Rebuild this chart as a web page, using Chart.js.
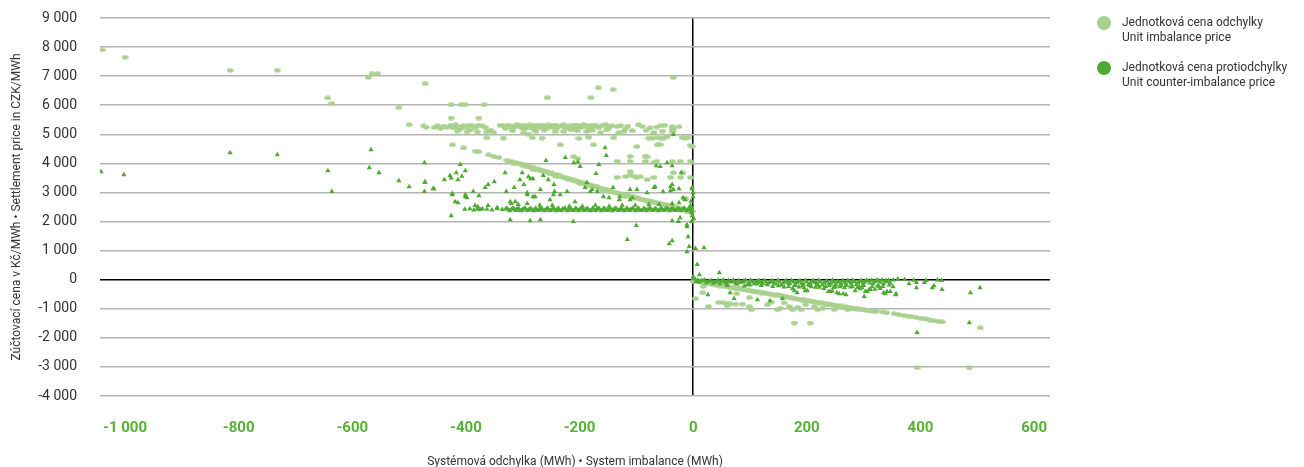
<!DOCTYPE html>
<html>
<head>
<meta charset="utf-8">
<script src="https://cdn.jsdelivr.net/npm/chart.js@4.4.1/dist/chart.umd.min.js"></script>
<style>
html,body{margin:0;padding:0;background:#fff;}
#wrap{position:relative;width:1304px;height:467px;overflow:hidden;}
#c{position:absolute;left:0;top:0;}
#legend{position:absolute;left:1097px;top:15px;font-family:Roboto,sans-serif;font-size:12px;color:#333;line-height:14.5px;}
.item{position:relative;padding-left:25px;height:29px;margin-bottom:16px;white-space:nowrap;}
.dot{position:absolute;left:0;top:1px;width:14px;height:14px;border-radius:50%;}
</style>
</head>
<body>
<div id="wrap">
<canvas id="c" width="1304" height="467"></canvas>
<div id="legend"></div>
</div>
<script>
// ---------- DATA ----------
const seriesNames = [
  ["Jednotková cena odchylky", "Unit imbalance price"],
  ["Jednotková cena protiodchylky", "Unit counter-imbalance price"]
];
const xTickValues = [-1000, -800, -600, -400, -200, 0, 200, 400, 600];
const yTickValues = [-4000, -3000, -2000, -1000, 0, 1000, 2000, 3000, 4000, 5000, 6000, 7000, 8000, 9000];
const xTitle = "Systémová odchylka (MWh) • System imbalance (MWh)";
const yTitle = "Zúčtovací cena v Kč/MWh • Settlement price in CZK/MWh";

// Unit imbalance price [system imbalance MWh, CZK/MWh]
const unitImbalancePrice = [
  [-1040,7900],[-1000,7650],[-815,7200],[-732,7200],[-572,6950],[-565,7080],[-555,7080],[-643,6250],[-636,6060],
  [-518,5920],[-500,5330],[-472,6740],[-35,6950],[-167,6600],[-141,6540],[-257,6260],[-180,6260],
  [-426,6020],[-408,6020],[-401,6020],[-368,6020],[-426,5560],[-377,5560],[-424,4640],
  [-474,5290],[-456,5230],[-439,5280],[-427,5310],[-422,5220],[-418,5330],[-413,5250],[-410,5180],[-405,5300],
  [-389,5290],[-384,5230],[-371,5290],[-333,5290],[-330,5200],[-324,5320],[-320,5230],[-310,5330],[-306,5260],
  [-301,5200],[-298,5310],[-292,5260],[-288,5330],[-283,5200],[-280,5290],[-275,5320],[-272,5240],[-263,5310],
  [-258,5200],[-254,5330],[-250,5260],[-245,5300],[-240,5210],[-228,5330],[-222,5280],[-219,5200],[-215,5310],
  [-210,5300],[-205,5220],[-201,5310],[-195,5260],[-190,5300],[-183,5190],[-172,5320],[-166,5230],[-154,5330],
  [-148,5250],[-134,5260],[-120,5180],[-96,5330],[-76,5220],[-58,5290],[-37,5260],[-35,5180],
  [-470,5240],[-450,5290],[-445,5200],[-433,5240],[-416,5270],[-400,5240],[-395,5310],[-378,5320],[-366,5240],
  [-340,5310],[-327,5260],[-316,5220],[-313,5290],[-304,5320],[-295,5200],[-286,5280],[-278,5210],[-268,5300],
  [-266,5220],[-261,5270],[-247,5220],[-242,5320],[-236,5260],[-231,5300],[-225,5230],[-212,5250],[-207,5320],
  [-198,5230],[-193,5330],[-186,5240],[-180,5320],[-176,5260],[-160,5300],[-150,5210],[-143,5300],[-128,5300],
  [-115,5280],[-90,5270],[-64,5250],[-50,5310],[-25,5260],
  [-398,5080],[-380,5080],[-363,5080],[-351,5070],[-298,5050],[-290,5010],[-228,5100],[-204,5120],[-187,5100],
  [-163,5060],[-131,5060],[-107,5120],[-69,5060],[-37,5150],[-36,5080],
  [-415,5110],[-392,5150],[-356,5140],[-318,5120],[-277,5100],[-262,5140],[-243,5090],[-214,5150],[-178,5130],
  [-152,5150],[-122,5100],[-83,5140],[-54,5110],
  [-363,4880],[-334,4870],[-283,4880],[-266,4870],[-201,4860],[-184,4900],[-140,4880],[-78,4870],[-72,4870],
  [-64,4880],[-57,4870],[-52,4870],[-19,4880],[-14,4870],[-9,4880],
  [-234,4640],[-175,4640],[-99,4580],[-63,4640],[-58,4640],[-5,4620],[-2,4580],[-46,4920],[-18,4880],
  [-404,4530],[-383,4420],[-377,4400],[-360,4290],[-351,4240],[-342,4200],
  [-328,4110],[-320,4070],[-312,4030],[-305,3990],[-297,3950],[-289,3900],[-281,3860],[-273,3810],[-265,3760],
  [-257,3720],[-249,3670],[-241,3620],[-233,3570],[-225,3520],[-217,3480],[-209,3430],[-201,3380],[-193,3330],
  [-185,3290],[-177,3240],[-169,3200],[-161,3150],[-153,3110],[-145,3060],[-137,3010],[-129,2970],[-121,2930],
  [-113,2890],[-105,2850],[-97,2810],[-89,2770],[-81,2740],[-73,2700],[-65,2660],[-57,2620],[-49,2590],
  [-41,2550],[-33,2510],[-25,2470],[-17,2430],[-9,2390],[-2,2350],
  [-325,4060],[-317,4010],[-309,3980],[-301,3930],[-293,3880],[-285,3840],[-277,3790],[-269,3740],[-261,3700],
  [-253,3650],[-245,3600],[-237,3560],[-229,3510],[-221,3460],[-213,3420],[-205,3370],[-197,3320],[-189,3280],
  [-181,3230],[-173,3190],[-165,3140],[-157,3100],[-149,3050],[-141,3000],[-133,2960],[-125,2920],[-117,2880],
  [-109,2840],[-101,2800],[-93,2760],[-85,2720],[-77,2690],[-69,2650],[-61,2610],[-53,2570],[-45,2540],
  [-37,2500],[-29,2460],[-21,2420],[-13,2380],[-6,2340],
  [-280,3780],[-240,3550],[-200,3320],[-160,3080],[-120,2870],[-80,2680],[-40,2490],[-10,2330],
  [-210,4230],[-203,4170],[-111,4240],[-84,4240],[-81,4230],[-134,4070],[-111,4070],[-84,4070],[-70,4020],
  [-64,4070],[-37,4070],[-23,4070],[-5,4060],[-134,3520],[-119,3550],[-111,3720],[-110,3600],[-102,3540],
  [-99,3520],[-93,3540],[-81,3440],[-69,3520],[-40,3520],[-35,3680],[-22,3520],[-18,3680],[-5,3510],
  [-16,2790],[-13,2790],
  [3,-40],[12,-70],[20,-100],[28,-120],[36,-150],[44,-180],[52,-200],[60,-230],[68,-260],[76,-280],[84,-310],
  [92,-340],[100,-360],[108,-390],[116,-420],[124,-440],[132,-470],[140,-500],[148,-520],[156,-550],[164,-580],
  [172,-610],[180,-640],[188,-670],[196,-690],[204,-720],[212,-750],[220,-770],[228,-800],[236,-820],[244,-850],
  [252,-880],[260,-900],[268,-930],[276,-950],[284,-980],[292,-1000],[300,-1020],[310,-1050],[322,-1080],
  [333,-1110],[354,-1170],[371,-1230],[385,-1270],[393,-1300],[407,-1340],[418,-1390],[424,-1410],[431,-1430],[438,-1450],
  [8,-70],[16,-100],[24,-130],[32,-160],[40,-190],[48,-220],[56,-240],[64,-270],[72,-300],[80,-320],[88,-350],
  [96,-380],[104,-400],[112,-430],[120,-460],[128,-480],[136,-510],[144,-540],[152,-560],[160,-590],[168,-620],
  [176,-650],[184,-680],[192,-700],[200,-730],[208,-760],[216,-780],[224,-810],[232,-840],[240,-860],[248,-890],
  [256,-910],[264,-940],[272,-960],[280,-990],[288,-1010],[296,-1040],[305,-1060],[316,-1090],[340,-1140],
  [362,-1200],[378,-1250],[400,-1320],[413,-1370],
  [75,-840],[87,-840],[99,-920],[102,-1030],[131,-860],[137,-770],[148,-1030],[154,-975],[160,-800],[169,-920],
  [175,-1030],[184,-950],[190,-1030],[198,-860],[213,-920],[219,-1030],[228,-975],[236,-860],[248,-1030],
  [272,-1030],[278,-975],[53,-800],[65,-830],[60,-900],[45,-780],
  [4,-650],[18,-240],[17,-450],[27,-920],[60,-830],[77,-480],[99,-620],[1,-70],
  [178,-1490],[206,-1490],[394,-3030],[486,-3030],[505,-1660]
];

// Unit counter-imbalance price [system imbalance MWh, CZK/MWh]
const unitCounterImbalancePrice = [
  [-1042,3710],[-1002,3610],[-815,4370],[-732,4300],[-567,4470],[-643,3750],[-636,3030],[-570,3850],[-553,3680],
  [-518,3400],[-500,3200],
  [-473,4020],[-472,3340],[-473,3030],[-456,3130],[-410,3960],[-417,3680],[-401,3750],[-438,3440],[-428,3580],
  [-426,3500],[-414,3440],[-407,3560],[-424,2960],[-401,2850],[-398,2820],[-387,3030],[-377,2890],[-366,3170],
  [-361,3270],[-350,3370],[-331,3680],[-329,3030],[-315,3170],[-301,3680],[-305,3440],[-290,3540],[-286,3470],
  [-282,3470],[-298,3270],[-292,2920],[-278,2850],[-264,3580],[-259,4100],[-255,3440],[-245,3270],[-244,3030],
  [-246,2920],[-225,4200],[-210,4020],[-203,4060],[-199,3890],[-187,3340],[-181,3030],[-171,3650],[-166,3960],
  [-155,4540],[-153,4270],[-148,2820],[-130,2750],[-111,3100],[-107,2820],[-69,3170],[-65,3920],[-58,3890],
  [-46,4020],[-37,3920],[-37,3270],[-25,3130],[-40,3060],[-21,3680],[-35,4990],[-2,3130],[0,2850],
  [-472,3370],[-458,3130],[-424,2920],[-419,2680],[-414,2650],[-401,2920],[-384,2550],[-379,2510],[-361,2550],
  [-345,2480],[-322,2680],[-313,2680],[-292,2990],[-282,2850],[-269,3100],[-252,2750],[-234,2920],[-222,3030],
  [-208,2680],[-190,3170],[-178,3100],[-169,3030],[-158,2850],[-141,3170],[-129,2850],[-111,2750],[-99,3100],
  [-81,2990],[-67,3200],[-53,3030],[-40,3200],[-35,3100],[-18,2820],[-14,2750],[-2,3170],[0,2990],
  [-402,2420],[-393,2440],[-386,2400],[-380,2430],[-375,2410],[-371,2440],[-363,2420],[-354,2400],[-345,2440],
  [-336,2410],[-330,2430],[-324,2400],[-319,2440],[-314,2410],[-310,2430],[-305,2390],[-300,2420],[-295,2440],
  [-290,2400],[-285,2430],[-280,2410],[-275,2380],[-270,2440],[-265,2410],[-260,2390],[-255,2430],[-250,2400],
  [-245,2440],[-240,2410],[-235,2390],[-230,2420],[-225,2440],[-220,2400],[-215,2420],[-210,2390],[-205,2430],
  [-200,2410],[-195,2440],[-190,2400],[-185,2420],[-180,2390],[-175,2430],[-170,2410],[-165,2440],[-160,2400],
  [-155,2420],[-150,2390],[-145,2430],[-140,2410],[-135,2440],[-130,2400],[-125,2420],[-120,2390],[-115,2430],
  [-110,2410],[-105,2440],[-100,2400],[-95,2420],[-90,2390],[-85,2430],[-80,2410],[-75,2440],[-70,2400],
  [-65,2420],[-60,2390],[-55,2430],[-50,2410],[-45,2440],[-40,2400],[-35,2420],[-30,2390],[-25,2430],
  [-20,2410],[-15,2440],[-10,2400],[-5,2420],[-2,2380],
  [-328,2460],[-322,2370],[-317,2460],[-312,2380],[-307,2450],[-302,2370],[-297,2460],[-292,2380],[-287,2450],
  [-282,2370],[-277,2460],[-272,2380],[-267,2450],[-262,2370],[-257,2460],[-252,2380],[-247,2450],[-242,2370],
  [-237,2460],[-232,2380],[-227,2450],[-222,2370],[-217,2460],[-212,2380],[-207,2450],[-202,2370],[-197,2460],
  [-192,2380],[-187,2450],[-182,2370],[-177,2460],[-172,2380],[-167,2450],[-162,2370],[-157,2460],[-152,2380],
  [-147,2450],[-142,2370],[-137,2460],[-132,2380],[-127,2450],[-122,2370],[-117,2460],[-112,2380],[-107,2450],
  [-102,2370],[-97,2460],[-92,2380],[-87,2450],[-82,2370],[-77,2460],[-72,2380],[-67,2450],[-62,2370],
  [-57,2460],[-52,2380],[-47,2450],[-42,2370],[-37,2460],[-32,2380],[-27,2450],[-22,2370],[-17,2460],
  [-12,2380],[-7,2450],[-3,2480],
  [-320,2620],[-308,2590],[-292,2620],[-270,2560],[-248,2560],[-218,2530],[-195,2530],[-172,2560],[-148,2530],
  [-125,2560],[-102,2560],[-78,2590],[-60,2590],[-37,2620],[-25,2650],
  [-426,2200],[-322,2060],[-287,2030],[-269,2060],[-211,2000],[-100,1860],[-116,1380],[-42,1240],[-37,1340],
  [-37,2030],[-23,2130],[-26,2000],[-11,1890],[-2,2200],[-11,1820],[-9,1480],[-7,1140],[-11,960],[4,1070],
  [19,1100],[7,520],[11,170],[46,240],[0,100],[-3,2300],[1,2100],[-5,2550],[-4,2700],[-3,2000],
  [3,20],[8,-20],[14,-40],[20,-10],[26,-60],[32,-30],[38,-80],[44,-20],[50,-50],[56,-90],[62,-30],[68,-60],
  [74,-110],[80,-40],[86,-80],[92,-20],[98,-120],[104,-60],[110,-90],[116,-30],[122,-130],[128,-70],[134,-100],
  [140,-40],[146,-150],[152,-80],[158,-110],[164,-30],[170,-140],[176,-70],[182,-100],[188,-40],[194,-160],
  [200,-80],[206,-120],[212,-30],[218,-150],[224,-70],[230,-110],[236,-40],[242,-130],[248,-80],[254,-50],
  [260,-140],[266,-90],[272,-30],[278,-120],[284,-60],[290,-100],[296,-30],[302,-80],[308,-40],[314,-20],
  [320,-60],[326,-30],[332,-10],[338,-40],[344,-20],[352,-10],[360,20],[372,10],[388,-20],[410,-30],[430,-10],
  [5,-60],[11,-90],[17,-30],[23,-110],[29,-50],[35,-120],[41,-60],[47,-140],[53,-20],[59,-130],[65,-80],
  [71,-20],[77,-150],[83,-100],[89,-60],[95,-170],[101,-20],[107,-140],[113,-50],[119,-100],[125,-20],
  [131,-170],[137,-60],[143,-120],[149,-20],[155,-180],[161,-70],[167,-110],[173,-20],[179,-170],[185,-60],
  [191,-120],[197,-20],[203,-170],[209,-60],[215,-100],[221,-20],[227,-180],[233,-80],[239,-150],[245,-20],
  [251,-170],[257,-90],[263,-30],[269,-160],[275,-70],[281,-20],[287,-170],[293,-60],[299,-130],[305,-20],
  [311,-110],[317,-140],[323,-10],[329,-90],[335,-140],[341,-70],[347,-120],[300,-200],[280,-230],[260,-210],
  [240,-200],[220,-190],[180,-200],[150,-210],[100,-180],
  [168,-230],[186,-250],[192,-220],[208,-240],[222,-260],[233,-230],[247,-270],[258,-240],[266,-280],[277,-250],
  [292,-230],[297,-270],[315,-240],[325,-200],[334,-230],[345,-180],
  [26,-520],[65,-450],[72,-650],[113,-690],[135,-720],[157,-650],[178,-380],[183,-450],[197,-380],[201,-380],
  [160,-250],[175,-300],[195,-280],[215,-260],[241,-410],[245,-390],[257,-480],[269,-520],[289,-280],[301,-580],
  [306,-410],[310,-340],[327,-240],[338,-480],[341,-410],[352,-240],[357,-480],[380,-140],[393,-100],[393,-280],
  [407,-100],[421,-280],[424,-210],[437,-30],[438,-340],[488,-450],[505,-280],[394,-1820],[486,-1480],
  [250,-250],[270,-200],[230,-300],[285,-380],[320,-330],[205,-200],[120,-200],[140,-230],[90,-220],[60,-200],
  [113,-150],[130,-150],[238,-410],[253,-450],[264,-480],[294,-310],[303,-410],[312,-340],[329,-300],[335,-450],
  [347,-410],[356,-520]
];

// ---------- STYLE ----------
const LIGHT = 'rgb(169,209,142)';
const DARK = 'rgb(78,170,50)';
const TICKGREEN = 'rgb(86,178,52)';

function fmt(v) {
  const s = Math.abs(v).toString().replace(/\B(?=(\d{3})+(?!\d))/g, ' ');
  return (v < 0 ? '-' : '') + s;
}

// ellipse marker
const ell = document.createElement('canvas');
ell.width = 7; ell.height = 5;
{
  const g = ell.getContext('2d');
  g.fillStyle = LIGHT;
  g.beginPath();
  g.ellipse(3.5, 2.5, 3.3, 2.2, 0, 0, Math.PI * 2);
  g.fill();
}

// legend
const legend = document.getElementById('legend');
[[LIGHT, seriesNames[0]], [DARK, seriesNames[1]]].forEach(([col, lines]) => {
  const d = document.createElement('div');
  d.className = 'item';
  d.innerHTML = '<span class="dot" style="background:' + col + '"></span>' + lines.join('<br>');
  legend.appendChild(d);
});

const toPts = arr => arr.map(p => ({x: p[0], y: p[1]}));

new Chart(document.getElementById('c'), {
  type: 'scatter',
  data: {
    datasets: [
      {
        label: seriesNames[1].join(' / '),
        data: toPts(unitCounterImbalancePrice),
        pointStyle: 'triangle',
        pointRadius: 3,
        backgroundColor: DARK,
        borderColor: DARK,
        borderWidth: 0,
        order: 0
      },
      {
        label: seriesNames[0].join(' / '),
        data: toPts(unitImbalancePrice),
        pointStyle: ell,
        pointRadius: 3,
        backgroundColor: LIGHT,
        borderWidth: 0,
        order: 1
      }
    ]
  },
  options: {
    responsive: false,
    animation: false,
    events: [],
    layout: {padding: {left: 0, right: 254, top: 18, bottom: 0}},
    plugins: {legend: {display: false}, tooltip: {enabled: false}},
    scales: {
      x: {
        type: 'linear',
        min: -1044,
        max: 628,
        afterBuildTicks: s => { s.ticks = xTickValues.map(v => ({value: v})); },
        afterFit: s => { s.height = 71; },
        border: {display: false},
        grid: {
          drawTicks: true,
          tickLength: 23,
          tickColor: 'rgba(0,0,0,0)',
          lineWidth: 1.5,
          color: c => (c.tick && c.tick.value === 0) ? '#000' : 'rgba(0,0,0,0)'
        },
        ticks: {
          padding: 0,
          color: TICKGREEN,
          font: {family: 'Roboto', size: 15, weight: 'bold'},
          callback: v => fmt(v)
        },
        title: {
          display: true,
          text: xTitle,
          color: '#333',
          font: {family: 'Roboto', size: 12},
          padding: {top: 0, bottom: -2}
        }
      },
      y: {
        type: 'linear',
        min: -4000,
        max: 9000,
        afterBuildTicks: s => { s.ticks = yTickValues.map(v => ({value: v})); },
        afterFit: s => { s.width = 100; },
        border: {display: false},
        grid: {
          drawTicks: true,
          tickLength: 23,
          tickColor: 'rgba(0,0,0,0)',
          lineWidth: 1.5,
          color: c => (c.tick && c.tick.value === 0) ? '#000' : '#b4b4b4'
        },
        ticks: {
          padding: 0,
          color: '#333',
          font: {family: 'Roboto', size: 14},
          callback: v => fmt(v)
        },
        title: {
          display: true,
          text: yTitle,
          color: '#333',
          font: {family: 'Roboto', size: 12},
          padding: {top: 10, bottom: 0}
        }
      }
    }
  }
});
</script>
</body>
</html>
